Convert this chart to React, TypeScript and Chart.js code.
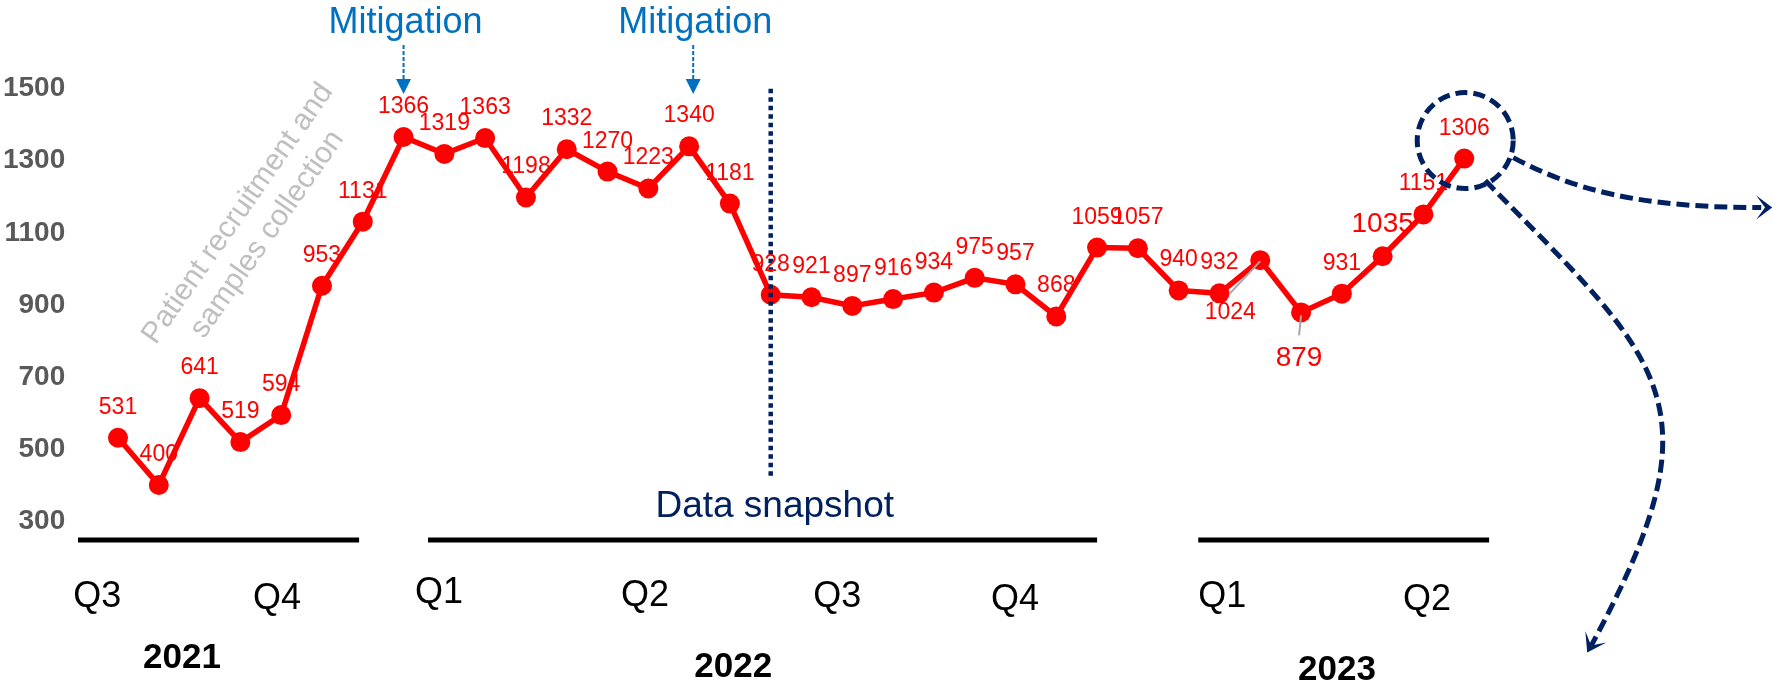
import React, { useEffect, useRef } from "react";
import { Chart, registerables } from "chart.js";

Chart.register(...registerables);

// ---- data ----
const values = [
  531, 400, 641, 519, 594, 953, 1131, 1366, 1319, 1363, 1198, 1332, 1270, 1223, 1340, 1181,
  928, 921, 897, 916, 934, 975, 957, 868, 1059, 1057, 940, 932, 1024, 879, 931, 1035, 1151, 1306,
];
const yTicks = [300, 500, 700, 900, 1100, 1300, 1500];
const quarterLabels = ["Q3", "Q4", "Q1", "Q2", "Q3", "Q4", "Q1", "Q2"];
const quarterPos = [-0.51, 3.9, 7.87, 12.92, 17.63, 21.99, 27.07, 32.09];
const yearLabels = ["2021", "2022", "2023"];
const yearPos = [1.57, 15.08, 29.88];
const periodStart = [-0.98, 7.6, 26.48];
const periodEnd = [5.91, 24.0, 33.61];
const mitigationPos = [7, 14.1];
const mitigationText = "Mitigation";
const snapshotIdx = 16;
const snapshotBottomValue = 420;
const snapshotText = "Data snapshot";
const highlightIdx = 33;
const noteLines = ["Patient recruitment and", "samples collection"];
const notePos = 3.3;

// ---- styles / layout ----
const FONT = '"Liberation Sans", Arial, Helvetica, sans-serif';
const RED = "#FF0000";
const NAVY = "#002060";
const BLUE = "#0070C0";
const bigLabels = [29, 31];
const labelMoves: Record<number, { dx: number; dy: number; lead: number[] }> = {
  28: { dx: -30, dy: 59, lead: [-31, 34, 0, 1] },
  29: { dx: -2, dy: 54, lead: [0, 3, -2, 23] },
};
const quarterBaselineOffset = [86, 88, 82, 85, 86, 89, 86, 89];
const yearBaselineOffset = [147, 156, 159];

function arrowHead(ctx: CanvasRenderingContext2D, x: number, y: number, ang: number, len: number, hw: number, notch: number) {
  ctx.save();
  ctx.translate(x, y);
  ctx.rotate(ang);
  ctx.beginPath();
  ctx.moveTo(0, 0);
  ctx.lineTo(-len, -hw);
  ctx.lineTo(-len * notch, 0);
  ctx.lineTo(-len, hw);
  ctx.closePath();
  ctx.fill();
  ctx.restore();
}

const annotate = {
  id: "annotate",
  afterDatasetsDraw(chart: any) {
    const ctx: CanvasRenderingContext2D = chart.ctx;
    const xs = chart.scales.x;
    const ys = chart.scales.y;
    const area = chart.chartArea;
    const meta = chart.getDatasetMeta(0);
    ctx.save();

    // timeline bars
    ctx.strokeStyle = "#000";
    ctx.lineWidth = 5;
    ctx.setLineDash([]);
    periodStart.forEach((s, k) => {
      ctx.beginPath();
      ctx.moveTo(xs.getPixelForValue(s), area.bottom + 19);
      ctx.lineTo(xs.getPixelForValue(periodEnd[k]), area.bottom + 19);
      ctx.stroke();
    });

    // quarter labels
    ctx.fillStyle = "#000";
    ctx.textAlign = "center";
    ctx.textBaseline = "alphabetic";
    ctx.font = `36px ${FONT}`;
    quarterLabels.forEach((q, k) =>
      ctx.fillText(q, xs.getPixelForValue(quarterPos[k]), area.bottom + quarterBaselineOffset[k])
    );
    // years
    ctx.font = `bold 35px ${FONT}`;
    yearLabels.forEach((y, k) => ctx.fillText(y, xs.getPixelForValue(yearPos[k]), area.bottom + yearBaselineOffset[k]));

    // snapshot dotted line
    const sx = xs.getPixelForValue(snapshotIdx);
    ctx.strokeStyle = NAVY;
    ctx.lineWidth = 4.5;
    ctx.setLineDash([4.5, 4]);
    ctx.beginPath();
    ctx.moveTo(sx, area.top);
    ctx.lineTo(sx, ys.getPixelForValue(snapshotBottomValue));
    ctx.stroke();
    ctx.setLineDash([]);
    ctx.fillStyle = NAVY;
    ctx.font = `37px ${FONT}`;
    ctx.fillText(snapshotText, sx + 4, area.bottom - 4);

    // mitigation notes
    mitigationPos.forEach((p) => {
      const mx = xs.getPixelForValue(p);
      ctx.fillStyle = BLUE;
      ctx.font = `36px ${FONT}`;
      ctx.textAlign = "center";
      ctx.fillText(mitigationText, mx + 2, 33);
      ctx.strokeStyle = BLUE;
      ctx.lineWidth = 2;
      ctx.setLineDash([4, 2]);
      ctx.beginPath();
      ctx.moveTo(mx, 45);
      ctx.lineTo(mx, 81);
      ctx.stroke();
      ctx.setLineDash([]);
      ctx.beginPath();
      ctx.moveTo(mx - 7.5, 79);
      ctx.lineTo(mx + 7.5, 79);
      ctx.lineTo(mx, 94);
      ctx.closePath();
      ctx.fill();
    });

    // grey note
    ctx.save();
    ctx.translate(xs.getPixelForValue(notePos), 224);
    ctx.rotate((-55 * Math.PI) / 180);
    ctx.fillStyle = "#BFBFBF";
    ctx.font = `30px ${FONT}`;
    ctx.textAlign = "center";
    ctx.textBaseline = "middle";
    ctx.fillText(noteLines[0], 0, -18);
    ctx.fillText(noteLines[1], 0, 18);
    ctx.restore();

    // data labels
    ctx.textAlign = "center";
    ctx.textBaseline = "alphabetic";
    meta.data.forEach((pt: any, i: number) => {
      const mv = labelMoves[i];
      ctx.fillStyle = RED;
      ctx.font = `${bigLabels.includes(i) ? 28 : 23}px ${FONT}`;
      if (mv) {
        ctx.strokeStyle = "#A6A6A6";
        ctx.lineWidth = 2;
        ctx.beginPath();
        ctx.moveTo(pt.x + mv.lead[0], pt.y + mv.lead[1]);
        ctx.lineTo(pt.x + mv.lead[2], pt.y + mv.lead[3]);
        ctx.stroke();
        ctx.fillText(String(values[i]), pt.x + mv.dx, pt.y + mv.dy);
      } else {
        ctx.fillText(String(values[i]), pt.x, pt.y - 24);
      }
    });

    // highlight circle and arrows
    const hp = meta.data[highlightIdx];
    const cx = hp.x + 1;
    const cy = hp.y - 18;
    ctx.strokeStyle = NAVY;
    ctx.fillStyle = NAVY;
    ctx.lineWidth = 5;
    ctx.setLineDash([12, 6]);
    ctx.beginPath();
    ctx.arc(cx, cy, 48, 0, Math.PI * 2);
    ctx.stroke();

    ctx.lineWidth = 5;
    ctx.setLineDash([13, 6]);
    ctx.beginPath();
    ctx.moveTo(cx + 48, cy + 17);
    ctx.bezierCurveTo(cx + 110, cy + 50, cx + 175, cy + 67, cx + 296, cy + 67);
    ctx.stroke();
    ctx.beginPath();
    ctx.moveTo(cx + 20, cy + 40);
    ctx.bezierCurveTo(cx + 200, cy + 223, cx + 257, cy + 263, cx + 126, cy + 505);
    ctx.stroke();
    ctx.setLineDash([]);
    arrowHead(ctx, cx + 307, cy + 67, 0, 16, 12, 0.45);
    arrowHead(ctx, cx + 122, cy + 512, Math.atan2(0.878, -0.479), 18, 12, 0.45);

    ctx.restore();
  },
};

export default function App() {
  const ref = useRef<HTMLCanvasElement | null>(null);
  useEffect(() => {
    if (!ref.current) return;
    const chart = new Chart(ref.current, {
      type: "line",
      data: {
        datasets: [
          {
            data: values.map((v, i) => ({ x: i, y: v })),
            borderColor: RED,
            backgroundColor: RED,
            borderWidth: 5.5,
            pointRadius: 10,
            pointBackgroundColor: RED,
            pointBorderWidth: 0,
            tension: 0,
            clip: false as any,
          },
        ],
      },
      options: {
        responsive: false,
        animation: false,
        devicePixelRatio: 1,
        layout: { padding: { top: 88.7, bottom: 165, left: 0, right: 64 } },
        plugins: { legend: { display: false }, tooltip: { enabled: false } },
        scales: {
          x: { type: "linear", min: -1, max: 39, display: false },
          y: {
            type: "linear",
            min: 300,
            max: 1500,
            grid: { display: false },
            border: { display: false },
            afterBuildTicks: (s: any) => {
              s.ticks = yTicks.map((v) => ({ value: v }));
            },
            afterFit: (s: any) => {
              s.width = 77.2;
            },
            ticks: {
              padding: 4,
              color: "#595959",
              font: { family: FONT, size: 28, weight: "bold" },
              callback: (v: any) => String(v),
            },
          },
        },
      },
      plugins: [annotate],
    });
    return () => chart.destroy();
  }, []);
  return (
    <div style={{ position: "absolute", left: 0, top: 0, width: 1773, height: 686, background: "#fff" }}>
      <canvas ref={ref} width={1773} height={686} style={{ display: "block" }} />
    </div>
  );
}
